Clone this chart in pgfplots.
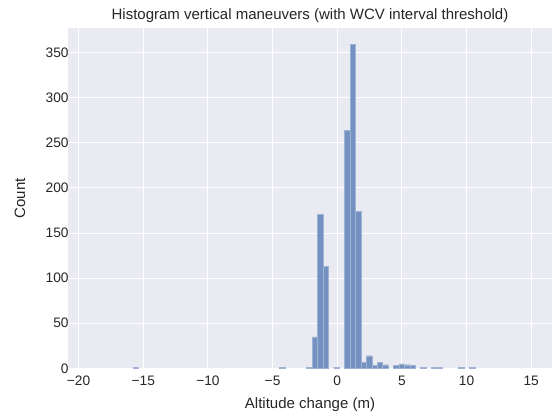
\documentclass[border=0pt]{standalone}
\usepackage{fontspec}
\setmainfont{Liberation Sans}
\usepackage{pgfplots}
\pgfplotsset{compat=1.18}
\definecolor{bgc}{HTML}{EAEAF2}
\definecolor{barc}{HTML}{7491C2}
\definecolor{txt}{HTML}{262626}
\begin{document}
\begin{tikzpicture}
\path[use as bounding box] (0,0) rectangle (414pt,311.25pt);
\begin{axis}[
  name=ax,
  at={(51pt,35pt)}, anchor=south west,
  scale only axis, width=363pt, height=255pt,
  xmin=-20.82, xmax=16.61, ymin=0, ymax=377,
  xtick={-20,-15,-10,-5,0,5,10,15},
  xticklabels={−20,−15,−10,−5,0,5,10,15},
  ytick={0,50,100,150,200,250,300,350},
  axis background/.style={fill=bgc},
  axis line style={draw=none},
  major tick length=0pt,
  grid=major,
  major grid style={white, line width=0.8pt},
  /pgf/number format/assume math mode=true,
  ticklabel style={font=\fontsize{10.3}{12}\selectfont, text=txt},
  xticklabel style={yshift=-2pt},
  yticklabel style={xshift=4pt},
  label style={font=\fontsize{11.25}{13}\selectfont, text=txt},
  xlabel={Altitude change (m)},
  ylabel={Count},
  xlabel style={at={(rel axis cs:0.5,-0.106)}, anchor=center},
  ylabel style={at={(rel axis cs:-0.0992,0.5)}, anchor=center},
  clip=true,
]
\addplot[ybar, bar width=0.42, bar shift=0pt, fill=barc, draw=barc!70!white, line width=0.3pt]
coordinates {
(-15.60,1) (-4.26,1) (-2.16,1) (-1.74,35) (-1.32,171) (-0.90,113) (-0.06,1)
(0.78,264) (1.20,359) (1.62,174) (2.04,7) (2.46,14) (2.88,3) (3.30,7) (3.72,4)
(4.56,3) (4.98,5) (5.40,4) (5.82,3) (6.66,1) (7.50,1) (7.92,1) (9.60,1) (10.44,1)
};
\end{axis}
\node[anchor=center, inner sep=0pt, font=\fontsize{11.25}{13}\selectfont, text=txt]
  at ([yshift=9.75pt]ax.north) {Histogram vertical maneuvers (with WCV interval threshold)};
\end{tikzpicture}
\end{document}
